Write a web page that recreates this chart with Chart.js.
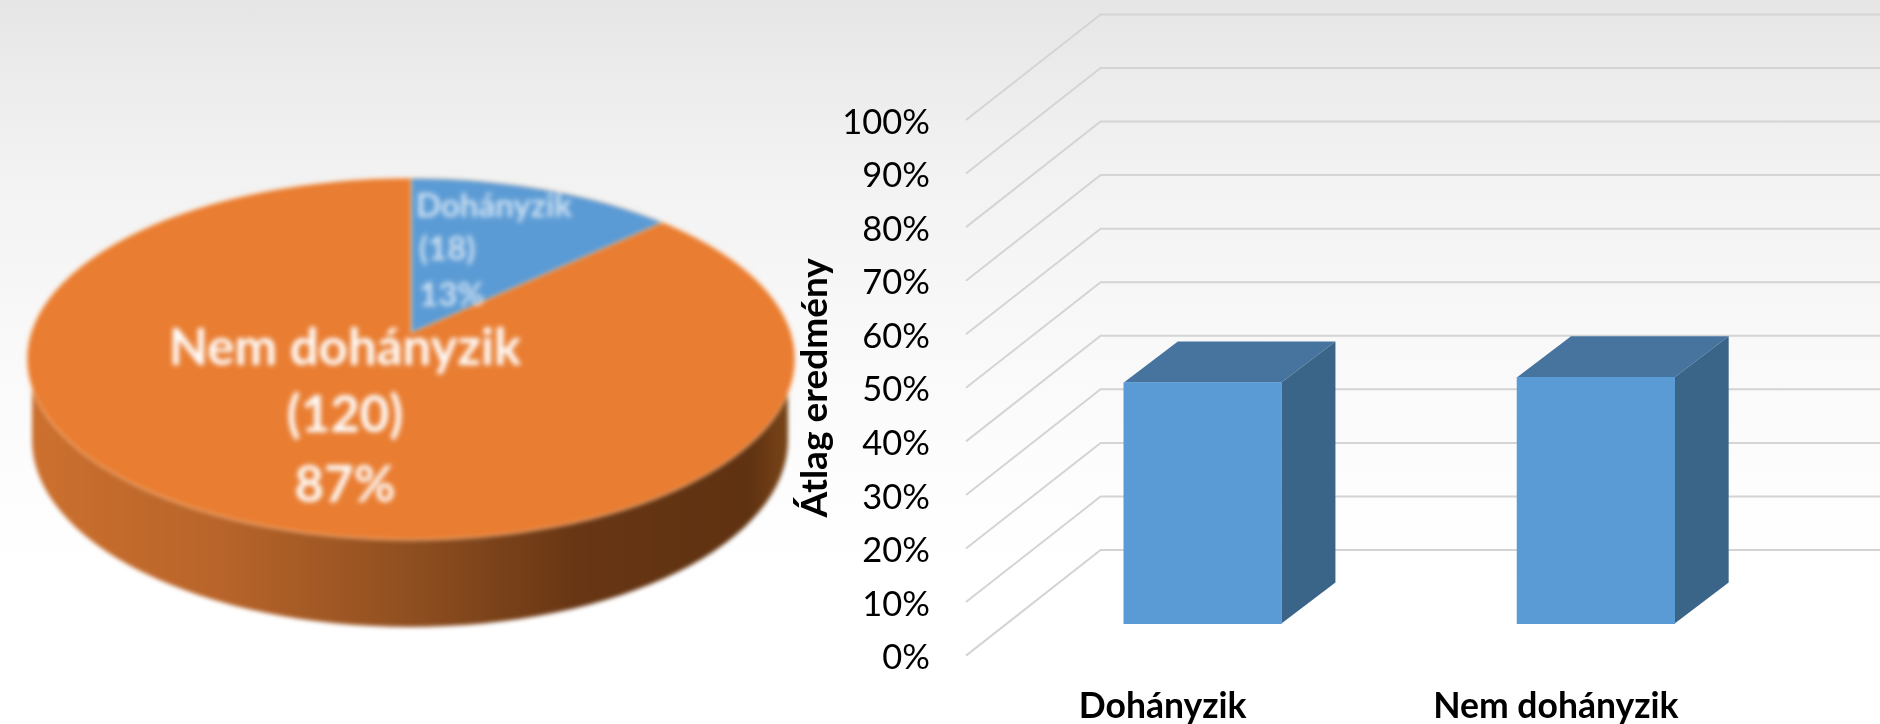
<!DOCTYPE html>
<html lang="hu">
<head>
<meta charset="utf-8">
<title>Dohányzás és átlag eredmény</title>
<script src="https://cdn.jsdelivr.net/npm/chart.js@4"></script>
<style>
html,body{margin:0;padding:0;width:1880px;height:724px;overflow:hidden;background:linear-gradient(180deg,#e6e6e6 0,#f1f1f1 150px,#f8f8f8 320px,#fdfdfd 480px,#fff 580px)}
#pieBox{position:absolute;left:0;top:0;width:840px;height:724px;filter:blur(2px)}
#barBox{position:absolute;left:790px;top:0;width:1090px;height:724px}
</style>
</head>
<body>
<div id="pieBox"><canvas id="pie"></canvas></div>
<div id="barBox"><canvas id="bar"></canvas></div>
<script>
const categories = ["Dohányzik", "Nem dohányzik"];
const smokerCounts = [18, 120];
const averageResults = [45, 46];
const axisTitle = "Átlag eredmény";

const FONT = "Lato, 'Open Sans', sans-serif";

/* ---------- 3D pie ---------- */
const total = smokerCounts.reduce((a, b) => a + b, 0);
const pct = v => Math.round(v / total * 100) + "%";

const pie3d = {
  id: "pie3d",
  beforeDatasetsDraw(chart) {
    const c = chart.ctx;
    // extruded side
    c.save();
    const g = c.createLinearGradient(32, 0, 788, 0);
    g.addColorStop(0, "#cc702e");
    g.addColorStop(.25, "#b8642a");
    g.addColorStop(.5, "#8f4f20");
    g.addColorStop(.72, "#683614");
    g.addColorStop(.95, "#5f3211");
    g.addColorStop(1, "#7a4518");
    c.fillStyle = g;
    c.beginPath();
    c.ellipse(410, 440, 378, 187, 0, 0, Math.PI);
    c.lineTo(32, 375);
    c.lineTo(788, 375);
    c.closePath();
    c.fill();
    c.restore();
    // flatten the pie into the tilted top face, apex off-centre
    const a = chart.getDatasetMeta(0).data[0];
    const k = 445 / a.outerRadius;
    c.save();
    c.beginPath();
    c.ellipse(411, 359, 384, 181, 0, 0, Math.PI * 2);
    c.clip();
    c.translate(411, 333);
    c.scale(k, k * 0.471);
    c.translate(-a.x, -a.y);
  },
  afterDatasetsDraw(chart) {
    const c = chart.ctx;
    c.restore();
    c.save();
    c.strokeStyle = "rgba(255,215,180,.5)";
    c.lineWidth = 2;
    c.beginPath();
    c.ellipse(411, 359, 384, 181, 0, 0, Math.PI * 2);
    c.stroke();
    c.filter = "blur(1.5px)";
    c.fillStyle = "#fff";
    c.textBaseline = "middle";
    c.textAlign = "center";
    c.font = "bold 51px " + FONT;
    c.fillText(categories[1], 345, 349);
    c.fillText("(" + smokerCounts[1] + ")", 345, 416);
    c.fillText(pct(smokerCounts[1]), 345, 486);
    c.textAlign = "left";
    c.fillStyle = "rgba(255,255,255,.72)";
    c.font = "bold 33px " + FONT;
    c.fillText(categories[0], 416, 206);
    c.fillText("(" + smokerCounts[0] + ")", 419, 249);
    c.fillText(pct(smokerCounts[0]), 419, 295);
    c.restore();
  }
};

new Chart(document.getElementById("pie"), {
  type: "pie",
  data: {
    labels: categories,
    datasets: [{
      data: smokerCounts,
      backgroundColor: ["#5b9bd5", "#e97d31"],
      borderColor: "rgba(255,225,195,.7)",
      borderWidth: 1
    }]
  },
  options: {
    responsive: true,
    maintainAspectRatio: false,
    animation: false,
    plugins: { legend: { display: false }, tooltip: { enabled: false } }
  },
  plugins: [pie3d]
});

/* ---------- 3D columns ---------- */
const WALL_DX = 134.6, WALL_DY = -105.6;      // front plane -> back wall
const BAR_DX = 40, BAR_DY = -32;              // front plane -> bar front face
const DEPTH_DX = 54, DEPTH_DY = -41;          // bar front face -> bar back face

const bar3d = {
  id: "bar3d",
  beforeDatasetsDraw(chart) {
    const c = chart.ctx, y = chart.scales.y, area = chart.chartArea;
    // walls
    c.save();
    y.ticks.forEach(t => {
      const py = y.getPixelForValue(t.value);
      c.strokeStyle = "#d4d4d4";
      c.lineWidth = 2;
      c.beginPath();
      c.moveTo(area.left, py);
      c.lineTo(area.left + WALL_DX, py + WALL_DY);
      c.lineTo(chart.width + 10, py + WALL_DY);
      c.stroke();
    });
    c.restore();
    // column depth faces, then shift the columns into the plot depth
    c.save();
    c.translate(BAR_DX, BAR_DY);
    chart.getDatasetMeta(0).data.forEach(b => {
      const l = b.x - b.width / 2, r = b.x + b.width / 2, t = b.y, bo = b.base;
      c.fillStyle = "#46749f";
      c.beginPath();
      c.moveTo(l, t); c.lineTo(l + DEPTH_DX, t + DEPTH_DY);
      c.lineTo(r + DEPTH_DX, t + DEPTH_DY); c.lineTo(r, t);
      c.closePath(); c.fill();
      c.fillStyle = "#3a6488";
      c.beginPath();
      c.moveTo(r, t); c.lineTo(r + DEPTH_DX, t + DEPTH_DY);
      c.lineTo(r + DEPTH_DX, bo + DEPTH_DY); c.lineTo(r, bo);
      c.closePath(); c.fill();
    });
  },
  afterDatasetsDraw(chart) {
    chart.ctx.restore();
  }
};

new Chart(document.getElementById("bar"), {
  type: "bar",
  data: {
    labels: categories,
    datasets: [{
      data: averageResults,
      backgroundColor: "#5b9bd5",
      barThickness: 157.6,
      clip: false
    }]
  },
  options: {
    responsive: true,
    maintainAspectRatio: false,
    animation: false,
    layout: { padding: { top: 120, right: 127.5, left: 0, bottom: 0 } },
    plugins: { legend: { display: false }, tooltip: { enabled: false } },
    scales: {
      x: {
        grid: { display: false },
        border: { display: false },
        afterFit(s) { s.height = 68.4; },
        ticks: {
          padding: 22,
          maxRotation: 0,
          autoSkip: false,
          color: "#000",
          font: { family: FONT, size: 35.5, weight: "bold" }
        }
      },
      y: {
        min: 0,
        max: 100,
        grid: { display: false },
        border: { display: false },
        afterFit(s) { s.width = 176; },
        title: {
          display: true,
          text: axisTitle,
          color: "#000",
          padding: { top: 3, bottom: 0 },
          font: { family: FONT, size: 37, weight: "bold" }
        },
        ticks: {
          stepSize: 10,
          padding: 28,
          labelOffset: 2.5,
          color: "#000",
          font: { family: FONT, size: 34.5 },
          callback: v => v + "%"
        }
      }
    }
  },
  plugins: [bar3d]
});
</script>
</body>
</html>
